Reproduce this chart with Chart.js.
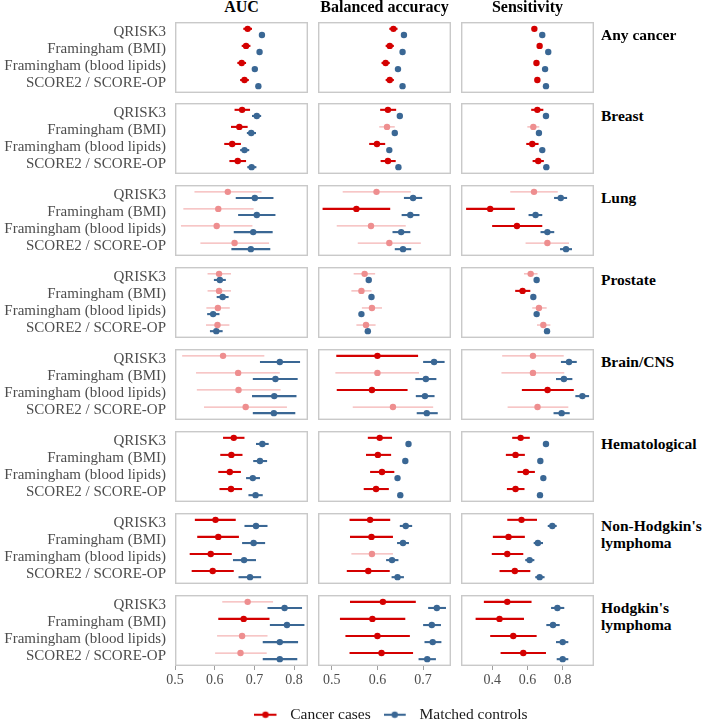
<!DOCTYPE html>
<html><head><meta charset="utf-8">
<script src="https://cdn.jsdelivr.net/npm/chart.js@4.4.1/dist/chart.umd.min.js"></script>
<style>
html,body{margin:0;padding:0;background:#fff;}
#wrap{position:relative;width:705px;height:720px;overflow:hidden;font-family:"Liberation Serif","Times New Roman",serif;}
canvas{position:absolute;}
.hdr{position:absolute;font-weight:bold;font-size:16px;color:#000;text-align:center;line-height:18px;white-space:nowrap;}
.rlab{position:absolute;font-weight:bold;font-size:15.5px;color:#000;line-height:17.5px;white-space:pre-line;}
</style></head><body><div id="wrap"></div>
<script>
// ---------- categories & labels ----------
const models = ['QRISK3', 'Framingham (BMI)', 'Framingham (blood lipids)', 'SCORE2 / SCORE-OP'];
const cancers = ['Any cancer', 'Breast', 'Lung', 'Prostate', 'Brain/CNS', 'Hematological', "Non-Hodgkin's\nlymphoma", "Hodgkin's\nlymphoma"];
const metrics = ['AUC', 'Balanced accuracy', 'Sensitivity'];
const seriesNames = ['Cancer cases', 'Matched controls'];
const aucTicks = [0.5, 0.6, 0.7, 0.8];
const baTicks = [0.5, 0.6, 0.7];
const sensTicks = [0.4, 0.6, 0.8];

// ---------- AUC (rows = cancers, cols = models) ----------
const aucCases   = [[0.683,0.679,0.668,0.675],[0.669,0.662,0.644,0.658],[0.633,0.609,0.605,0.650],[0.611,0.611,0.608,0.607],[0.621,0.659,0.660,0.678],[0.648,0.642,0.638,0.641],[0.602,0.609,0.590,0.595],[0.683,0.673,0.669,0.665]];
const aucCasesLo = [[0.672,0.668,0.657,0.664],[0.650,0.641,0.624,0.637],[0.549,0.521,0.515,0.564],[0.582,0.582,0.579,0.578],[0.518,0.553,0.555,0.573],[0.621,0.614,0.609,0.612],[0.550,0.556,0.537,0.542],[0.619,0.609,0.606,0.601]];
const aucCasesHi = [[0.694,0.690,0.679,0.686],[0.689,0.683,0.666,0.679],[0.718,0.698,0.695,0.737],[0.641,0.641,0.638,0.637],[0.725,0.764,0.766,0.782],[0.675,0.670,0.666,0.669],[0.653,0.661,0.643,0.648],[0.747,0.738,0.733,0.731]];
const aucCtrl    = [[0.719,0.713,0.701,0.710],[0.706,0.692,0.675,0.693],[0.701,0.706,0.697,0.691],[0.613,0.620,0.596,0.604],[0.764,0.753,0.750,0.749],[0.720,0.714,0.696,0.703],[0.704,0.698,0.674,0.689],[0.776,0.782,0.764,0.764]];
const aucCtrlLo  = [[0.713,0.707,0.695,0.704],[0.694,0.681,0.664,0.682],[0.653,0.659,0.648,0.642],[0.598,0.605,0.581,0.588],[0.714,0.696,0.694,0.696],[0.704,0.697,0.679,0.685],[0.675,0.669,0.646,0.660],[0.733,0.739,0.721,0.721]];
const aucCtrlHi  = [[0.725,0.719,0.707,0.716],[0.717,0.704,0.687,0.705],[0.748,0.753,0.746,0.740],[0.628,0.635,0.612,0.620],[0.815,0.809,0.806,0.803],[0.736,0.732,0.714,0.721],[0.733,0.727,0.704,0.717],[0.820,0.826,0.810,0.808]];
const aucFaded   = [[0,0,0,0],[0,0,0,0],[1,1,1,1],[1,1,1,1],[1,1,1,1],[0,0,0,0],[0,0,0,0],[1,0,1,1]];

// ---------- Balanced accuracy ----------
const baCases   = [[0.635,0.627,0.618,0.627],[0.623,0.621,0.599,0.623],[0.598,0.554,0.586,0.626],[0.572,0.565,0.588,0.575],[0.600,0.600,0.588,0.634],[0.605,0.601,0.610,0.597],[0.584,0.587,0.588,0.580],[0.612,0.589,0.600,0.609]];
const baCasesLo = [[0.626,0.618,0.609,0.618],[0.606,0.604,0.582,0.607],[0.524,0.480,0.511,0.557],[0.548,0.543,0.566,0.554],[0.510,0.508,0.511,0.546],[0.579,0.575,0.584,0.570],[0.539,0.540,0.543,0.533],[0.540,0.518,0.530,0.539]];
const baCasesHi = [[0.644,0.636,0.627,0.636],[0.641,0.638,0.617,0.640],[0.673,0.628,0.662,0.695],[0.595,0.587,0.610,0.596],[0.689,0.691,0.666,0.722],[0.632,0.630,0.637,0.625],[0.628,0.634,0.634,0.627],[0.684,0.661,0.671,0.678]];
const baCtrl    = [[0.658,0.655,0.645,0.655],[0.649,0.638,0.626,0.646],[0.678,0.672,0.652,0.656],[0.581,0.587,0.565,0.579],[0.724,0.706,0.704,0.708],[0.668,0.661,0.644,0.650],[0.662,0.656,0.632,0.644],[0.730,0.719,0.721,0.709]];
const baCtrlLo  = [[0.653,0.650,0.640,0.650],[0.644,0.633,0.621,0.641],[0.658,0.653,0.633,0.638],[0.576,0.582,0.560,0.574],[0.700,0.683,0.684,0.686],[0.663,0.656,0.639,0.645],[0.649,0.643,0.619,0.631],[0.711,0.700,0.703,0.690]];
const baCtrlHi  = [[0.663,0.660,0.650,0.660],[0.654,0.643,0.631,0.651],[0.698,0.692,0.672,0.674],[0.586,0.592,0.570,0.584],[0.747,0.729,0.725,0.732],[0.673,0.666,0.649,0.655],[0.676,0.669,0.646,0.658],[0.750,0.739,0.740,0.728]];
const baFaded   = [[0,0,0,0],[0,1,0,0],[1,0,1,1],[1,1,1,1],[0,1,0,1],[0,0,0,0],[0,0,1,0],[0,0,0,0]];

// ---------- Sensitivity ----------
const sensCases   = [[0.639,0.669,0.651,0.656],[0.656,0.633,0.627,0.661],[0.637,0.388,0.540,0.713],[0.618,0.572,0.665,0.690],[0.631,0.631,0.714,0.657],[0.561,0.532,0.591,0.532],[0.566,0.492,0.485,0.528],[0.485,0.441,0.519,0.576]];
const sensCasesLo = [[0.629,0.659,0.641,0.646],[0.621,0.599,0.593,0.629],[0.502,0.251,0.399,0.589],[0.580,0.530,0.627,0.654],[0.456,0.452,0.568,0.487],[0.513,0.477,0.543,0.483],[0.485,0.403,0.397,0.441],[0.352,0.305,0.388,0.447]];
const sensCasesHi = [[0.649,0.679,0.661,0.666],[0.690,0.667,0.663,0.693],[0.772,0.528,0.684,0.836],[0.657,0.616,0.709,0.730],[0.806,0.809,0.863,0.832],[0.613,0.585,0.642,0.583],[0.654,0.585,0.576,0.616],[0.623,0.580,0.652,0.705]];
const sensCtrl    = [[0.684,0.718,0.700,0.705],[0.705,0.665,0.684,0.707],[0.789,0.646,0.713,0.819],[0.652,0.633,0.652,0.711],[0.836,0.807,0.912,0.794],[0.705,0.673,0.690,0.671],[0.741,0.659,0.612,0.669],[0.770,0.745,0.800,0.800]];
const sensCtrlLo  = [[0.674,0.708,0.690,0.695],[0.695,0.655,0.674,0.697],[0.751,0.606,0.674,0.785],[0.642,0.623,0.642,0.701],[0.790,0.762,0.872,0.748],[0.695,0.663,0.680,0.661],[0.715,0.635,0.587,0.644],[0.734,0.707,0.762,0.766]];
const sensCtrlHi  = [[0.694,0.728,0.710,0.715],[0.715,0.675,0.694,0.717],[0.825,0.684,0.752,0.853],[0.662,0.643,0.662,0.721],[0.880,0.855,0.950,0.840],[0.715,0.683,0.700,0.681],[0.766,0.688,0.639,0.697],[0.809,0.783,0.832,0.832]];
const sensFaded   = [[0,0,0,0],[0,1,0,0],[1,0,0,1],[1,0,1,1],[1,1,0,1],[0,0,0,0],[0,0,0,0],[0,0,0,0]];

// ---------- styling / layout ----------
const RED = '#d40000', RED_FADED_PT = '#ee8e8f', RED_FADED_LN = '#f4b3b3', BLUE = '#3a6794';
const TEXT_GRAY = '#4d4d4d';
const SERIF = '"Liberation Serif", "Times New Roman", serif';
const colLeft = [175, 318, 461];
const rowTop = [22, 103, 185, 267, 349, 431, 513, 595];
const panelW = 133, panelH = 71, xAxisH = 36;
const dodge = 0.18;

const metricTables = [
  {est: aucCases, lo: aucCasesLo, hi: aucCasesHi, cEst: aucCtrl, cLo: aucCtrlLo, cHi: aucCtrlHi, faded: aucFaded, ticks: aucTicks, min: 0.5, max: 0.835},
  {est: baCases, lo: baCasesLo, hi: baCasesHi, cEst: baCtrl, cLo: baCtrlLo, cHi: baCtrlHi, faded: baFaded, ticks: baTicks, min: 0.47, max: 0.761},
  {est: sensCases, lo: sensCasesLo, hi: sensCasesHi, cEst: sensCtrl, cLo: sensCtrlLo, cHi: sensCtrlHi, faded: sensFaded, ticks: sensTicks, min: 0.222, max: 0.978}
];

Chart.defaults.font.family = SERIF;

const borderPlugin = {
  id: 'panelBorder',
  afterDraw(chart) {
    const a = chart.chartArea, ctx = chart.ctx;
    ctx.save();
    ctx.strokeStyle = '#c9c9c9';
    ctx.lineWidth = 1.4;
    ctx.strokeRect(a.left + 0.7, a.top + 0.7, a.right - a.left - 1.4, a.bottom - a.top - 1.4);
    ctx.restore();
  }
};

const wrap = document.getElementById('wrap');

function buildPanel(r, c) {
  const m = metricTables[c];
  const isLeft = c === 0, isBottom = r === cancers.length - 1;
  const cv = document.createElement('canvas');
  const w = panelW + (isLeft ? colLeft[0] : 0);
  const h = panelH + (isBottom ? xAxisH : 0);
  cv.width = w; cv.height = h;
  cv.style.left = (isLeft ? 0 : colLeft[c]) + 'px';
  cv.style.top = rowTop[r] + 'px';
  cv.style.width = w + 'px'; cv.style.height = h + 'px';
  wrap.appendChild(cv);

  const datasets = [];
  datasets.push({
    label: seriesNames[0], order: 1, showLine: false,
    data: models.map((_, i) => ({x: m.est[r][i], y: i + 1 - dodge})),
    pointRadius: 3.2, pointBorderWidth: 0,
    pointBackgroundColor: models.map((_, i) => m.faded[r][i] ? RED_FADED_PT : RED)
  });
  datasets.push({
    label: seriesNames[1], order: 1, showLine: false,
    data: models.map((_, i) => ({x: m.cEst[r][i], y: i + 1 + dodge})),
    pointRadius: 3.2, pointBorderWidth: 0, pointBackgroundColor: BLUE
  });
  models.forEach((_, i) => {
    const fd = m.faded[r][i];
    datasets.push({
      label: seriesNames[0] + ' CI', order: 2, showLine: true, pointRadius: 0,
      borderColor: fd ? RED_FADED_LN : RED, borderWidth: fd ? 1.3 : 2.1,
      data: [{x: m.lo[r][i], y: i + 1 - dodge}, {x: m.hi[r][i], y: i + 1 - dodge}]
    });
    datasets.push({
      label: seriesNames[1] + ' CI', order: 2, showLine: true, pointRadius: 0,
      borderColor: BLUE, borderWidth: 2.1,
      data: [{x: m.cLo[r][i], y: i + 1 + dodge}, {x: m.cHi[r][i], y: i + 1 + dodge}]
    });
  });

  new Chart(cv, {
    type: 'scatter',
    data: {datasets},
    plugins: [borderPlugin],
    options: {
      responsive: false, animation: false, devicePixelRatio: 1, events: [],
      layout: {padding: 0, autoPadding: false},
      plugins: {legend: {display: false}, tooltip: {enabled: false}},
      scales: {
        x: {
          type: 'linear', min: m.min, max: m.max, display: isBottom,
          afterBuildTicks: ax => { ax.ticks = m.ticks.map(v => ({value: v})); },
          afterFit: ax => { if (isBottom) { ax.height = xAxisH; } ax.paddingLeft = 0; ax.paddingRight = 0; },
          ticks: {callback: v => Number(v).toFixed(1), font: {size: 14, family: SERIF}, color: TEXT_GRAY, padding: 2, autoSkip: false, maxRotation: 0},
          grid: {display: true, drawOnChartArea: false, drawTicks: true, tickLength: 4, color: '#a0a0a0', lineWidth: 1},
          border: {display: false}
        },
        y: {
          type: 'linear', min: 0.42, max: 4.58, reverse: true, display: isLeft,
          afterBuildTicks: ax => { ax.ticks = models.map((_, i) => ({value: i + 1})); },
          afterFit: ax => { if (isLeft) { ax.width = colLeft[0]; } ax.paddingTop = 0; ax.paddingBottom = 0; },
          ticks: {callback: v => models[Math.round(v) - 1], font: {size: 15, family: SERIF}, color: TEXT_GRAY, padding: 9, autoSkip: false},
          grid: {display: false, drawTicks: false},
          border: {display: false}
        }
      }
    }
  });
}

for (let r = 0; r < cancers.length; r++) for (let c = 0; c < metrics.length; c++) buildPanel(r, c);

// column headers
metrics.forEach((t, c) => {
  const d = document.createElement('div');
  d.className = 'hdr'; d.textContent = t;
  d.style.left = colLeft[c] + 'px'; d.style.width = panelW + 'px'; d.style.top = '-2px';
  wrap.appendChild(d);
});
// row labels
cancers.forEach((t, r) => {
  const d = document.createElement('div');
  d.className = 'rlab'; d.textContent = t;
  d.style.left = '601px'; d.style.top = (rowTop[r] + 3.5) + 'px';
  wrap.appendChild(d);
});

// legend (its own chart)
function keyImage(color) {
  const k = document.createElement('canvas');
  k.width = 28; k.height = 10;
  const g = k.getContext('2d');
  g.strokeStyle = color; g.lineWidth = 2.1;
  g.beginPath(); g.moveTo(0, 5); g.lineTo(22, 5); g.stroke();
  g.fillStyle = color; g.beginPath(); g.arc(11, 5, 3.2, 0, Math.PI * 2); g.fill();
  return k;
}
const keys = [keyImage(RED), keyImage(BLUE)];
const lc = document.createElement('canvas');
lc.width = 400; lc.height = 80;
lc.style.left = '191px'; lc.style.top = '694px'; lc.style.width = '400px'; lc.style.height = '80px';
wrap.appendChild(lc);
new Chart(lc, {
  type: 'scatter',
  data: {datasets: [
    {label: seriesNames[0], data: [], backgroundColor: RED, borderColor: RED},
    {label: seriesNames[1], data: [], backgroundColor: BLUE, borderColor: BLUE}
  ]},
  options: {
    responsive: false, animation: false, devicePixelRatio: 1, events: [],
    layout: {padding: 0},
    scales: {x: {display: false}, y: {display: false}},
    plugins: {
      tooltip: {enabled: false},
      legend: {
        display: true, position: 'top', align: 'center', maxHeight: 50,
        labels: {
          usePointStyle: true, pointStyleWidth: 28, padding: 13,
          font: {size: 15.5, family: SERIF}, color: '#1a1a1a',
          generateLabels: chart => chart.data.datasets.map((ds, i) => ({
            text: ds.label, fillStyle: ds.backgroundColor, strokeStyle: ds.borderColor,
            lineWidth: 0, pointStyle: keys[i], hidden: false, datasetIndex: i, fontColor: '#1a1a1a'
          }))
        }
      }
    }
  }
});
</script>
</body></html>
